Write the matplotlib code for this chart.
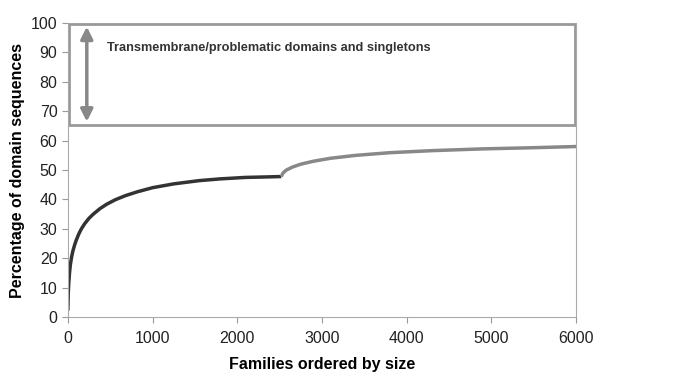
import matplotlib.pyplot as plt
from matplotlib.patches import Rectangle

# values
fam_dark = [0, 5, 10, 20, 30, 45, 60, 80, 100, 130, 160, 200, 250, 300, 380, 460, 560, 680, 820, 1000, 1250, 1550, 1800, 2100, 2400, 2520]
pct_dark = [2.2, 8, 11, 15, 17.8, 20.5, 22.5, 24.5, 26.2, 28.3, 30.0, 31.8, 33.6, 35.0, 36.9, 38.4, 39.9, 41.3, 42.6, 44.0, 45.3, 46.4, 47.0, 47.5, 47.7, 47.8]
fam_light = [2520, 2540, 2580, 2650, 2750, 2900, 3100, 3400, 3800, 4300, 4900, 5500, 6000]
pct_light = [47.8, 49.0, 50.0, 51.0, 52.0, 53.0, 54.0, 55.0, 55.9, 56.6, 57.2, 57.6, 58.0]

plt.rcParams['font.family'] = ['Liberation Sans', 'DejaVu Sans']

fig = plt.figure(figsize=(6.85, 3.83), dpi=100)
ax = fig.add_axes([0.099, 0.172, 0.742, 0.768])

ax.plot(fam_dark, pct_dark, color='#333333', lw=2.5, solid_capstyle='butt')
ax.plot(fam_light, pct_light, color='#888888', lw=2.5, solid_capstyle='butt')

# top box with annotation
ax.add_patch(Rectangle((10, 65.3), 5980, 34.5, fill=False, edgecolor='#999999', lw=2, clip_on=False))
ax.annotate('', xy=(224, 65.5), xytext=(224, 99.7),
            arrowprops=dict(arrowstyle='<|-|>', color='#888888', lw=2.5, mutation_scale=18))
ax.text(460, 91.5, 'Transmembrane/problematic domains and singletons',
        fontsize=9.2, fontweight='bold', color='#333333', va='center')

ax.set_xlim(0, 6000)
ax.set_ylim(0, 100)
ax.set_xticks(range(0, 6001, 1000))
ax.set_yticks(range(0, 101, 10))
ax.tick_params(colors='#999999', labelcolor='#222222', labelsize=11.5, length=4, direction='out')
ax.tick_params(axis='x', pad=6)
for s in ['left', 'bottom', 'right']:
    ax.spines[s].set_color('#aaaaaa')
ax.spines['top'].set_visible(False)

ax.set_xlabel('Families ordered by size', fontsize=11.5, fontweight='bold', labelpad=8)
ax.set_ylabel('Percentage of domain sequences', fontsize=11.5, fontweight='bold', labelpad=4)

fig.savefig('out.png', dpi=100)
